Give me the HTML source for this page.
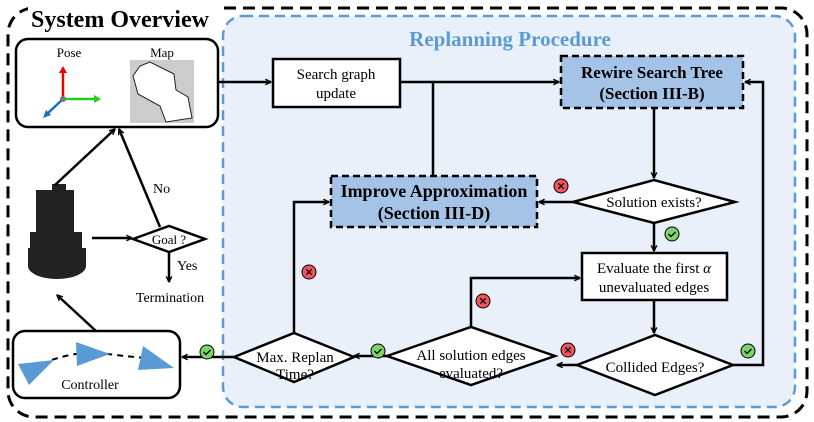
<!DOCTYPE html>
<html><head><style>body{margin:0;background:#fff}svg{display:block}text{font-family:"Liberation Serif",serif}</style></head><body>
<svg width="814" height="422" viewBox="0 0 814 422" xmlns="http://www.w3.org/2000/svg">
<defs>
<marker id="a" viewBox="0 0 10 10" refX="9" refY="5" markerWidth="7" markerHeight="7" orient="auto-start-reverse" markerUnits="userSpaceOnUse"><path d="M1,1 L9,5 L1,9" fill="none" stroke="#000" stroke-width="2"/></marker>
<g id="ok"><circle r="7" fill="#7dd36a" stroke="#000" stroke-width="1"/><path d="M-3.5,0 L-1,2.5 L3.5,-2" fill="none" stroke="#000" stroke-width="1.3"/></g>
<g id="no"><circle r="7" fill="#f0555e" stroke="#000" stroke-width="1"/><path d="M-2.7,-2.7 L2.7,2.7 M2.7,-2.7 L-2.7,2.7" stroke="#000" stroke-width="1.3"/></g>
</defs>
<rect x="8" y="8" width="799" height="409" rx="26" fill="none" stroke="#000" stroke-width="3" stroke-dasharray="12,7"/>
<rect x="28" y="2" width="190" height="30" fill="#fff"/>
<text x="31" y="27" font-size="24" font-weight="bold">System Overview</text>
<rect x="223" y="16" width="572" height="391" rx="20" fill="#e9f0fa" stroke="#5b9bd5" stroke-width="2.5" stroke-dasharray="10,6"/>
<text x="510" y="46" font-size="21" font-weight="bold" fill="#5b9bd5" text-anchor="middle">Replanning Procedure</text>
<!-- pose/map -->
<rect x="16" y="39" width="202" height="88" rx="12" fill="#fff" stroke="#000" stroke-width="2.5"/>
<text x="69" y="57" font-size="13" text-anchor="middle">Pose</text>
<text x="162" y="57" font-size="13" text-anchor="middle">Map</text>
<line x1="63" y1="99" x2="63" y2="72" stroke="#e00" stroke-width="2.5"/><path d="M59,73 L63,66 L67,73Z" fill="#e00"/>
<line x1="63" y1="99" x2="95" y2="99" stroke="#2c2" stroke-width="2.5"/><path d="M94,95 L101,99 L94,103Z" fill="#2c2"/>
<line x1="63" y1="99" x2="47" y2="114" stroke="#1a6fc4" stroke-width="2.5"/><path d="M43,118 L46,110 L51,115Z" fill="#1a6fc4"/>
<circle cx="63" cy="99" r="3" fill="#777"/>
<rect x="130" y="60" width="64" height="63" fill="#ccc"/>
<path d="M140,66 L150,62 L174,74 L176,90 L188,97 L192,118 L166,122 L160,106 L138,94 L133,76Z" fill="#fff" stroke="#222" stroke-width="1"/>
<!-- robot -->
<g fill="#222">
<rect x="36" y="190" width="38" height="44"/><rect x="52" y="184" width="14" height="6"/>
<rect x="30" y="232" width="52" height="22"/>
<ellipse cx="57" cy="266" rx="29" ry="13"/>
<rect x="28" y="248" width="58" height="18"/>
</g>
<!-- left arrows -->
<line x1="55" y1="185" x2="115" y2="129" stroke="#000" stroke-width="2.5" marker-end="url(#a)"/>
<line x1="160" y1="227" x2="119" y2="129" stroke="#000" stroke-width="2.5" marker-end="url(#a)"/>
<text x="153" y="193" font-size="14">No</text>
<line x1="92" y1="238" x2="132" y2="238" stroke="#000" stroke-width="2.5" marker-end="url(#a)"/>
<polygon points="133,239 169,226 205,239 169,252" fill="#fff" stroke="#000" stroke-width="2.5"/>
<text x="169" y="244" font-size="13" text-anchor="middle">Goal ?</text>
<line x1="169" y1="252" x2="169" y2="282" stroke="#000" stroke-width="2.5" marker-end="url(#a)"/>
<text x="177" y="270" font-size="14">Yes</text>
<text x="170" y="302" font-size="14" text-anchor="middle">Termination</text>
<line x1="96" y1="331" x2="57" y2="295" stroke="#000" stroke-width="2.5" marker-end="url(#a)"/>
<!-- controller -->
<rect x="13" y="331" width="167" height="67" rx="12" fill="#fff" stroke="#000" stroke-width="2.5"/>
<path d="M52,360 Q80,350 108,354 Q130,357 150,358" fill="none" stroke="#000" stroke-width="2" stroke-dasharray="6,5"/>
<polygon points="18,364 54,360 29,385" fill="#5b9bd5"/>
<polygon points="76,342 110,354 77,366" fill="#5b9bd5"/>
<polygon points="143,346 174,368 138,370" fill="#5b9bd5"/>
<text x="90" y="389" font-size="14" text-anchor="middle">Controller</text>
<!-- main flow -->
<line x1="218" y1="82" x2="271" y2="82" stroke="#000" stroke-width="2.5" marker-end="url(#a)"/>
<rect x="273" y="59" width="127" height="48" fill="#fff" stroke="#000" stroke-width="2.5"/>
<text x="336" y="79" font-size="15" text-anchor="middle">Search graph</text>
<text x="336" y="98" font-size="15" text-anchor="middle">update</text>
<line x1="400" y1="82" x2="559" y2="82" stroke="#000" stroke-width="2.5" marker-end="url(#a)"/>
<line x1="433" y1="82" x2="433" y2="176" stroke="#000" stroke-width="2.5"/>
<rect x="561" y="56" width="182" height="52" fill="#a4c3e6" stroke="#000" stroke-width="2.5" stroke-dasharray="7,4"/>
<text x="652" y="78" font-size="17" font-weight="bold" text-anchor="middle">Rewire Search Tree</text>
<text x="652" y="99" font-size="17" font-weight="bold" text-anchor="middle">(Section III-B)</text>
<rect x="331" y="176" width="206" height="51" fill="#a4c3e6" stroke="#000" stroke-width="2.5" stroke-dasharray="7,4"/>
<text x="434" y="197" font-size="18" font-weight="bold" text-anchor="middle">Improve Approximation</text>
<text x="434" y="219" font-size="18" font-weight="bold" text-anchor="middle">(Section III-D)</text>
<line x1="654" y1="108" x2="654" y2="178" stroke="#000" stroke-width="2.5" marker-end="url(#a)"/>
<polygon points="573,202 654,180 735,202 654,223" fill="#fff" stroke="#000" stroke-width="2.5"/>
<text x="654" y="207" font-size="15" text-anchor="middle">Solution exists?</text>
<line x1="573" y1="202" x2="539" y2="202" stroke="#000" stroke-width="2.5" marker-end="url(#a)"/>
<use href="#no" x="561" y="186"/>
<line x1="654" y1="223" x2="654" y2="251" stroke="#000" stroke-width="2.5" marker-end="url(#a)"/>
<use href="#ok" x="672" y="234"/>
<rect x="582" y="253" width="145" height="47" fill="#fff" stroke="#000" stroke-width="2.5"/>
<text x="654" y="273" font-size="15" text-anchor="middle">Evaluate the first <tspan font-style="italic">α</tspan></text>
<text x="654" y="292" font-size="15" text-anchor="middle">unevaluated edges</text>
<line x1="654" y1="300" x2="654" y2="333" stroke="#000" stroke-width="2.5" marker-end="url(#a)"/>
<polygon points="577,365 655,335 733,365 655,395" fill="#fff" stroke="#000" stroke-width="2.5"/>
<text x="655" y="372" font-size="15" text-anchor="middle">Collided Edges?</text>
<polyline points="733,365 763,365 763,82 745,82" fill="none" stroke="#000" stroke-width="2.5" marker-end="url(#a)"/>
<use href="#ok" x="748" y="351"/>
<line x1="577" y1="365" x2="557" y2="365" stroke="#000" stroke-width="2.5" marker-end="url(#a)"/>
<use href="#no" x="568" y="350"/>
<polygon points="387,356 471,327 555,356 471,385" fill="#fff" stroke="#000" stroke-width="2.5"/>
<text x="471" y="360" font-size="15" text-anchor="middle">All solution edges</text>
<text x="471" y="378" font-size="15" text-anchor="middle">evaluated?</text>
<polyline points="471,327 471,278 580,278" fill="none" stroke="#000" stroke-width="2.5" marker-end="url(#a)"/>
<use href="#no" x="483" y="301"/>
<line x1="387" y1="356" x2="354" y2="356" stroke="#000" stroke-width="2.5" marker-end="url(#a)"/>
<use href="#ok" x="378" y="351"/>
<polygon points="234,357 294,333 354,357 294,382" fill="#fff" stroke="#000" stroke-width="2.5"/>
<text x="295" y="362" font-size="15" text-anchor="middle">Max. Replan</text>
<text x="295" y="379" font-size="15" text-anchor="middle">Time?</text>
<polyline points="294,333 294,202 329,202" fill="none" stroke="#000" stroke-width="2.5" marker-end="url(#a)"/>
<use href="#no" x="309" y="272"/>
<line x1="234" y1="357" x2="182" y2="357" stroke="#000" stroke-width="2.5" marker-end="url(#a)"/>
<use href="#ok" x="207" y="352"/>
</svg>
</body></html>
